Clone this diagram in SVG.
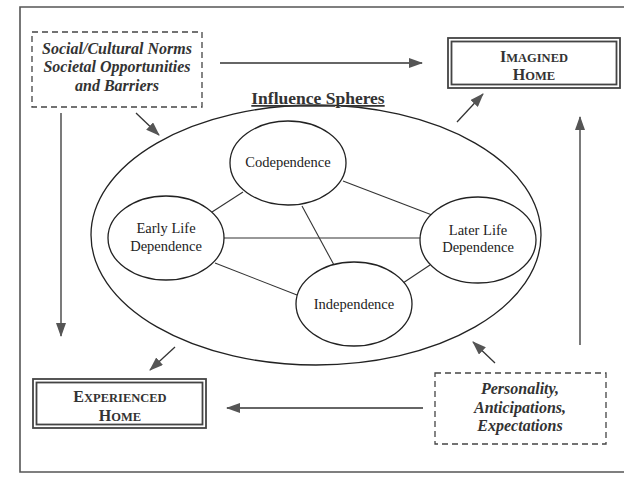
<svg xmlns="http://www.w3.org/2000/svg" width="624" height="479" viewBox="0 0 624 479">
<style>
.frame{fill:none;stroke:#555;stroke-width:1.6}
.dash{fill:#fff;stroke:#444;stroke-width:1.3;stroke-dasharray:6 4}
.dbl{fill:none;stroke:#444;stroke-width:1.8}
.ell{fill:#fff;stroke:#222;stroke-width:1.3}
.big{fill:#fff;stroke:#222;stroke-width:1.3}
.edge{stroke:#333;stroke-width:1.1;fill:none}
.arr{stroke:#333;stroke-width:1.3;fill:none;marker-end:url(#ah)}
.lbl{font-family:"Liberation Serif",serif;font-size:14.5px;fill:#222;text-anchor:middle}
.bi{font-family:"Liberation Serif",serif;font-size:16px;font-weight:bold;font-style:italic;fill:#333;text-anchor:middle}
.sc{font-family:"Liberation Serif",serif;font-weight:bold;fill:#333;text-anchor:middle}
.title{font-family:"Liberation Serif",serif;font-size:17.5px;font-weight:bold;fill:#333;text-decoration:underline}
</style>
<defs>
<marker id="ah" markerUnits="userSpaceOnUse" markerWidth="14" markerHeight="10" refX="13" refY="5" orient="auto">
<path d="M0,0 L14,5 L0,10 Z" fill="#555"/>
</marker>
</defs>
<rect width="624" height="479" fill="#fff"/>
<path class="frame" d="M624,7 H20 V472 H624"/>

<g id="influence-spheres">
<ellipse class="big" cx="316" cy="235" rx="225" ry="130"/>
<text class="title" x="318" y="104" text-anchor="middle">Influence Spheres</text>
</g>

<g id="connectors">
<line class="edge" x1="243" y1="192" x2="212" y2="212"/>
<line class="edge" x1="343" y1="181" x2="432" y2="215"/>
<line class="edge" x1="302" y1="206" x2="334" y2="265"/>
<line class="edge" x1="224" y1="238" x2="421" y2="238"/>
<line class="edge" x1="215" y1="263" x2="297" y2="295"/>
<line class="edge" x1="403" y1="283" x2="430" y2="265"/>
<line class="arr" x1="220" y1="63" x2="422" y2="63"/>
<line class="arr" x1="136" y1="113" x2="159" y2="135"/>
<line class="arr" x1="61" y1="113" x2="61" y2="336"/>
<line class="arr" x1="457" y1="122" x2="483" y2="94"/>
<line class="arr" x1="580" y1="345" x2="580" y2="117"/>
<line class="arr" x1="175" y1="347" x2="150" y2="370"/>
<line class="arr" x1="495" y1="363" x2="473" y2="342"/>
<line class="arr" x1="423" y1="408" x2="227" y2="408"/>
</g>

<g id="codependence">
<ellipse class="ell" cx="288" cy="163" rx="58" ry="42"/>
<text class="lbl" x="288" y="167">Codependence</text>
</g>
<g id="early-life">
<ellipse class="ell" cx="166" cy="238" rx="58" ry="42"/>
<text class="lbl" x="166" y="233">Early Life</text>
<text class="lbl" x="166" y="251">Dependence</text>
</g>
<g id="later-life">
<ellipse class="ell" cx="478" cy="240" rx="58" ry="43"/>
<text class="lbl" x="478" y="235">Later Life</text>
<text class="lbl" x="478" y="252">Dependence</text>
</g>
<g id="independence">
<ellipse class="ell" cx="354" cy="304" rx="58" ry="42"/>
<text class="lbl" x="354" y="309">Independence</text>
</g>

<g id="social-norms">
<rect class="dash" x="32" y="32" width="170" height="75"/>
<text class="bi" x="117" y="54">Social/Cultural Norms</text>
<text class="bi" x="117" y="72">Societal Opportunities</text>
<text class="bi" x="117" y="91">and Barriers</text>
</g>

<g id="imagined-home">
<rect class="dbl" x="448" y="38" width="172" height="50"/>
<rect class="dbl" x="451.5" y="41.5" width="165" height="43"/>
<text class="sc" x="534" y="62"><tspan font-size="16">I</tspan><tspan font-size="12.5">MAGINED</tspan></text>
<text class="sc" x="534" y="80"><tspan font-size="16">H</tspan><tspan font-size="12.5">OME</tspan></text>
</g>

<g id="experienced-home">
<rect class="dbl" x="33" y="379" width="173" height="49"/>
<rect class="dbl" x="36.5" y="382.5" width="166" height="42"/>
<text class="sc" x="120" y="402"><tspan font-size="16">E</tspan><tspan font-size="12.5">XPERIENCED</tspan></text>
<text class="sc" x="120" y="421"><tspan font-size="16">H</tspan><tspan font-size="12.5">OME</tspan></text>
</g>

<g id="personality">
<rect class="dash" x="435" y="373" width="171" height="71"/>
<text class="bi" x="520" y="394">Personality,</text>
<text class="bi" x="520" y="413">Anticipations,</text>
<text class="bi" x="520" y="431">Expectations</text>
</g>
</svg>
